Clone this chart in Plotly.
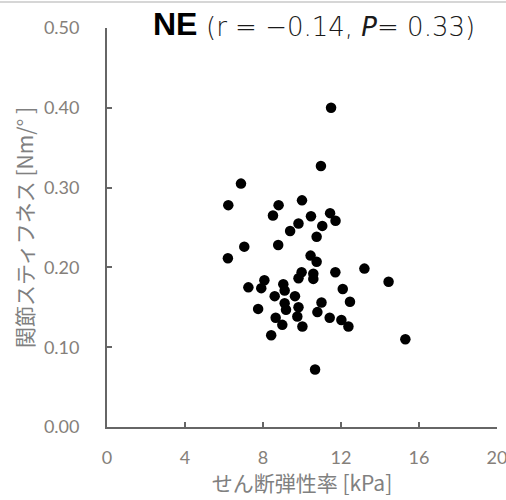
import plotly.graph_objects as go

# Shear modulus [kPa] and joint stiffness [Nm/deg] for the NE group
shear_modulus = [
    11.49, 10.97, 6.87, 6.22, 8.80, 10.00, 8.51, 10.46, 11.44, 11.72,
    9.82, 11.04, 9.39, 10.75, 7.04, 6.20, 8.78, 10.44, 10.75, 9.98,
    9.82, 10.58, 10.58, 11.71, 13.20, 14.44, 8.07, 7.25, 7.91, 9.04,
    9.11, 8.60, 9.64, 12.09, 12.46, 9.11, 11.00, 7.75, 9.18, 9.82,
    10.79, 9.76, 8.65, 11.42, 12.02, 12.38, 8.99, 10.02, 8.42, 15.30,
    10.67,
]
joint_stiffness = [
    0.400, 0.327, 0.305, 0.278, 0.278, 0.284, 0.265, 0.264, 0.268, 0.2585,
    0.255, 0.252, 0.2456, 0.2385, 0.226, 0.2115, 0.228, 0.2148, 0.207, 0.194,
    0.1865, 0.192, 0.1856, 0.194, 0.1985, 0.182, 0.184, 0.175, 0.174, 0.179,
    0.171, 0.164, 0.164, 0.173, 0.157, 0.155, 0.156, 0.148, 0.147, 0.150,
    0.144, 0.1385, 0.137, 0.137, 0.134, 0.126, 0.128, 0.126, 0.115, 0.110,
    0.072,
]

x_ticks = [0, 4, 8, 12, 16, 20]
y_ticks = [0.0, 0.1, 0.2, 0.3, 0.4, 0.5]

group_label = "NE"
stats_label = "(r = −0.14, <i>P</i>= 0.33)"
x_title = "せん断弾性率 [kPa]"
y_title = "関節スティフネス [Nm/° ]"

axis_color = "#666666"
tick_font = dict(family="Lato, Arial, sans-serif", size=18, color="#85807a")
title_font = dict(family="Noto Sans CJK JP, sans-serif", size=21, color="#808080")

fig = go.Figure(
    go.Scatter(
        x=shear_modulus,
        y=joint_stiffness,
        mode="markers",
        marker=dict(color="black", size=10.5, line=dict(width=0)),
        hoverinfo="x+y",
    )
)

fig.update_layout(
    width=506,
    height=500,
    margin=dict(l=107, r=9, t=27.5, b=72.5, autoexpand=False),
    paper_bgcolor="white",
    plot_bgcolor="white",
    showlegend=False,
)

fig.update_xaxes(
    range=[0, 20],
    tickvals=x_ticks,
    ticktext=[str(v) for v in x_ticks],
    ticks="inside",
    ticklen=5,
    tickwidth=1.5,
    tickcolor=axis_color,
    showline=True,
    linecolor=axis_color,
    linewidth=1.8,
    showgrid=False,
    zeroline=False,
    tickfont=tick_font,
    ticklabelstandoff=13,
    ticklabeloverflow="allow",
    title=dict(text=x_title, font=title_font, standoff=8),
    automargin=False,
)

fig.update_yaxes(
    range=[0, 0.5],
    tickvals=y_ticks,
    ticktext=[f"{v:.2f}" for v in y_ticks],
    ticks="inside",
    ticklen=5,
    tickwidth=1.5,
    tickcolor=axis_color,
    showline=True,
    linecolor=axis_color,
    linewidth=1.8,
    showgrid=False,
    zeroline=False,
    tickfont=tick_font,
    ticklabelstandoff=22,
    ticklabeloverflow="allow",
    title=dict(text=y_title, font=title_font, standoff=5),
    automargin=False,
)

# Group name and correlation statistics above the plot area
fig.add_annotation(
    text=f"<b>{group_label}</b>",
    xref="paper", yref="paper",
    x=(151 - 107) / 390, y=1 + (27.5 - 23) / 400,
    xanchor="left", yanchor="middle",
    showarrow=False,
    font=dict(family="Liberation Sans, Arial, sans-serif", size=32, color="black"),
)
fig.add_annotation(
    text=stats_label,
    xref="paper", yref="paper",
    x=(204 - 107) / 390, y=1 + (27.5 - 26) / 400,
    xanchor="left", yanchor="middle",
    showarrow=False,
    font=dict(family="DejaVu Sans, sans-serif", size=26, color="#1a1a1a", weight=200),
)

# Thin rule along the top edge of the figure
fig.add_shape(
    type="line",
    xref="paper", yref="paper",
    x0=-107 / 390, x1=(506 - 107) / 390,
    y0=1 + 26 / 400, y1=1 + 26 / 400,
    line=dict(color="#c8c8c8", width=1.5),
)

fig.write_html("out.html")
